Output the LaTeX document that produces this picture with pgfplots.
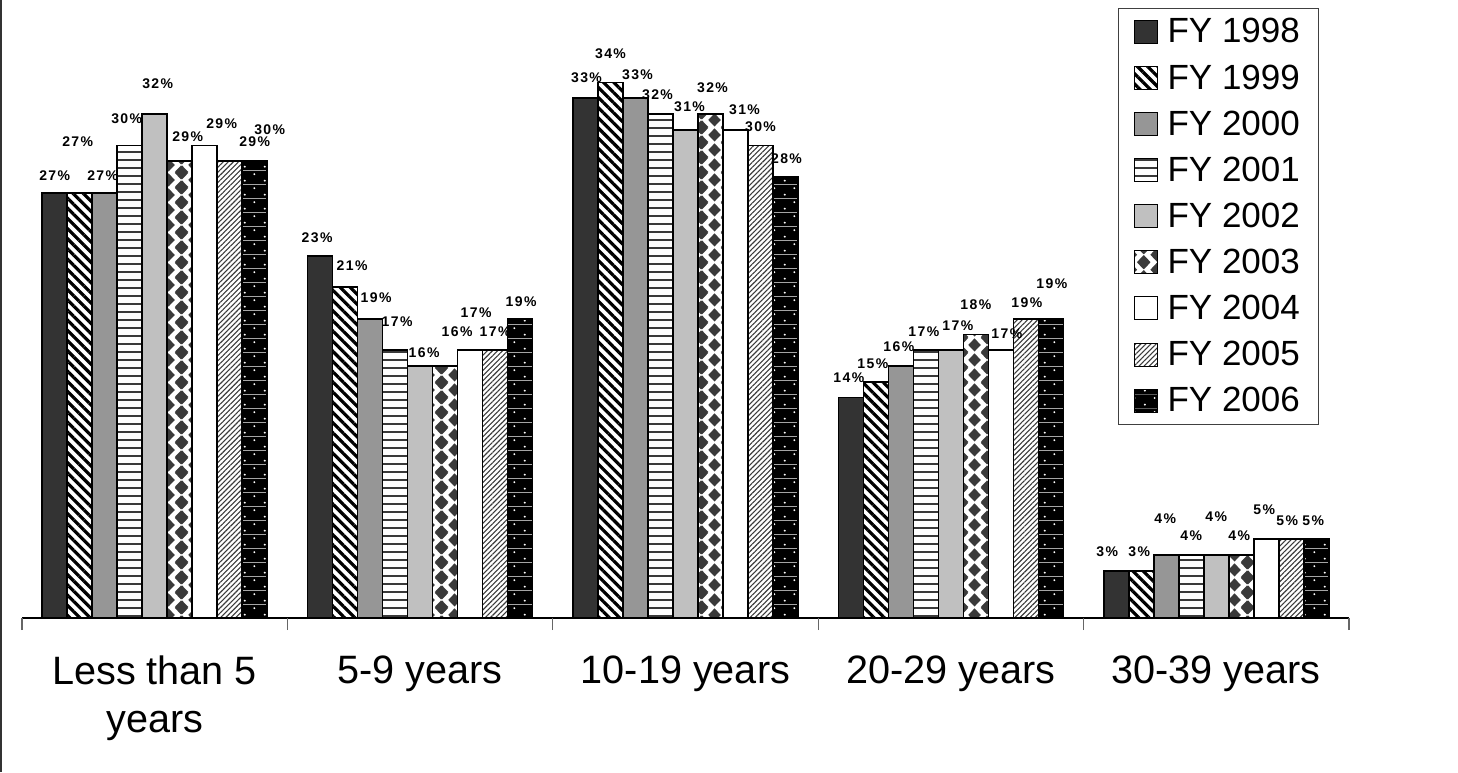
\documentclass[border=0pt]{standalone}
\usepackage{pgfplots}
\pgfplotsset{compat=1.18}
\usepackage{fontspec}
\setmainfont{Liberation Sans}
\usetikzlibrary{patterns,patterns.meta}

\definecolor{c98}{HTML}{333333}
\definecolor{c00}{HTML}{969696}
\definecolor{c02}{HTML}{C0C0C0}
\definecolor{cdk}{HTML}{3A3A3A}

\newcommand\dmd[2]{%
  \pgfpathmoveto{\pgfpointadd{\pgfpoint{#1}{#2}}{\pgfpoint{-3.25pt}{0pt}}}%
  \pgfpathlineto{\pgfpointadd{\pgfpoint{#1}{#2}}{\pgfpoint{0pt}{3.5pt}}}%
  \pgfpathlineto{\pgfpointadd{\pgfpoint{#1}{#2}}{\pgfpoint{3.25pt}{0pt}}}%
  \pgfpathlineto{\pgfpointadd{\pgfpoint{#1}{#2}}{\pgfpoint{0pt}{-3.5pt}}}%
  \pgfpathclose}
\pgfdeclarepatternformonly{mydiamonds}{\pgfpointorigin}{\pgfpoint{13pt}{7.5pt}}{\pgfpoint{13pt}{7.5pt}}{%
  \dmd{0pt}{0pt}\dmd{13pt}{0pt}\dmd{0pt}{7.5pt}\dmd{13pt}{7.5pt}\dmd{6.5pt}{3.75pt}%
  \pgfusepath{fill}}
\pgfdeclarepatternformonly{hbands}{\pgfpoint{-1pt}{0pt}}{\pgfpoint{5pt}{4pt}}{\pgfpoint{4pt}{4pt}}{%
  \pgfpathrectangle{\pgfpoint{-1pt}{1.45pt}}{\pgfpoint{6pt}{1.1pt}}%
  \pgfusepath{fill}}
\pgfdeclarepatterninherentlycolored{wdots}{\pgfpointorigin}{\pgfpoint{10pt}{7pt}}{\pgfpoint{10pt}{7pt}}{%
  \pgfsetfillcolor{black}%
  \pgfpathrectangle{\pgfpoint{-0.1pt}{-0.1pt}}{\pgfpoint{10.2pt}{7.2pt}}\pgfusepath{fill}%
  \pgfsetfillcolor{white}%
  \pgfpathcircle{\pgfpoint{2.5pt}{1.75pt}}{0.55pt}%
  \pgfpathcircle{\pgfpoint{7.5pt}{5.25pt}}{0.55pt}%
  \pgfusepath{fill}}

\begin{document}
\begin{tikzpicture}
\path[use as bounding box] (-11pt,-77pt) rectangle (718pt,309pt);
\draw[line width=0.8pt, black!80] (-10.5pt,-77pt) -- (-10.5pt,309pt);
\begin{axis}[
  at={(0,0)}, anchor=south west,
  scale only axis, width=663.5pt, height=309pt,
  ymin=0, ymax=39.24, xmin=-0.5, xmax=4.5,
  axis x line=bottom, axis y line=none,
  axis line style={-, black, line width=0.6pt},
  ybar=0pt, bar width=12.5pt,
  xtick={0,1,2,3,4},
  xticklabels={{Less than 5\\years},{5-9 years},{10-19 years},{20-29 years},{30-39 years}},
  major tick length=0pt,
  extra x ticks={-0.5,0.5,1.5,2.5,3.5,4.5}, extra x tick labels={},
  extra x tick style={major tick length=6pt, tick align=outside, tick style={black!60, line width=0.6pt}},
  xticklabel style={font=\fontsize{19.8}{24}\selectfont, align=center, anchor=north, inner sep=0pt, yshift=-18.5pt},
  clip=false,
  nodes near coords={\pgfplotspointmeta\%},
  point meta=explicit symbolic,
  visualization depends on={value \thisrow{dx}\as\dx},
  visualization depends on={value \thisrow{dy}\as\dy},
  every node near coord/.append style={font=\bfseries\fontsize{7}{8}\selectfont\addfontfeature{LetterSpace=10}, anchor=center, inner sep=0pt, xshift=\dx*0.5pt, yshift=\dy*0.5pt},
  legend style={at={(0.826,0.987)}, anchor=north west, draw=black!75, line width=0.5pt,
    font=\fontsize{17.5}{20}\selectfont, inner xsep=7.5pt, inner ysep=3pt, row sep=5.3pt, column sep=3pt},
  legend cell align=left,
  legend image code/.code={\draw[#1,line width=0.5pt] (0pt,-5.75pt) rectangle (11.5pt,5.75pt);},
]
\addplot[draw=black, line width=0.8pt, fill=c98] table[x=x,y=y,meta=lab]{
x y lab dx dy
0 27 27 0 17
1 23 23 -3 18
2 33 33 1 21
3 14 14 -2 20
4 3 3 -9 19
};
\addplot[draw=black, line width=0.8pt, pattern={Lines[angle=-45,distance=3.6pt,line width=1.6pt]}, pattern color=black] table[x=x,y=y,meta=lab]{
x y lab dx dy
0 27 27 -2 51
1 21 21 7 22
2 34 34 0 29
3 15 15 -3 18
4 3 3 -2 19
};
\addplot[draw=black, line width=0.8pt, fill=c00] table[x=x,y=y,meta=lab]{
x y lab dx dy
0 27 27 -2 17
1 19 19 6 21
2 33 33 2 24
3 16 16 -2 19
4 4 4 -1 36
};
\addplot[draw=black, line width=0.8pt, pattern=hbands, pattern color=cdk] table[x=x,y=y,meta=lab]{
x y lab dx dy
0 30 30 -3 27
1 17 17 2 29
2 32 32 -3 19
3 17 17 -2 19
4 4 4 0 19
};
\addplot[draw=black, line width=0.8pt, fill=c02] table[x=x,y=y,meta=lab]{
x y lab dx dy
0 32 32 3 30
1 16 16 4 13
2 31 31 4 23
3 17 17 7 25
4 4 4 0 38
};
\addplot[draw=black, line width=0.8pt, pattern=mydiamonds, pattern color=cdk] table[x=x,y=y,meta=lab]{
x y lab dx dy
0 29 29 8 25
1 16 16 12 34
2 32 32 2 26
3 18 18 0 30
4 4 4 -2 19
};
\addplot[draw=black, line width=0.8pt, fill=white] table[x=x,y=y,meta=lab]{
x y lab dx dy
0 30 29 17 22
1 17 17 6 38
2 31 31 9 20
3 17 17 6 17
4 5 5 -2 30
};
\addplot[draw=black, line width=0.8pt, pattern={Lines[angle=45,distance=1.8pt,line width=0.55pt]}, pattern color=cdk] table[x=x,y=y,meta=lab]{
x y lab dx dy
0 29 29 25 20
1 17 17 0 19
2 30 30 0 19
3 19 19 1 16
4 5 5 -4 19
};
\addplot[draw=black, line width=0.8pt, pattern=wdots] table[x=x,y=y,meta=lab]{
x y lab dx dy
0 29 30 15 32
1 19 19 1 17
2 28 28 1 18
3 19 19 1 35
4 5 5 -3 19
};
\legend{FY 1998,FY 1999,FY 2000,FY 2001,FY 2002,FY 2003,FY 2004,FY 2005,FY 2006}
\end{axis}
\end{tikzpicture}
\end{document}
